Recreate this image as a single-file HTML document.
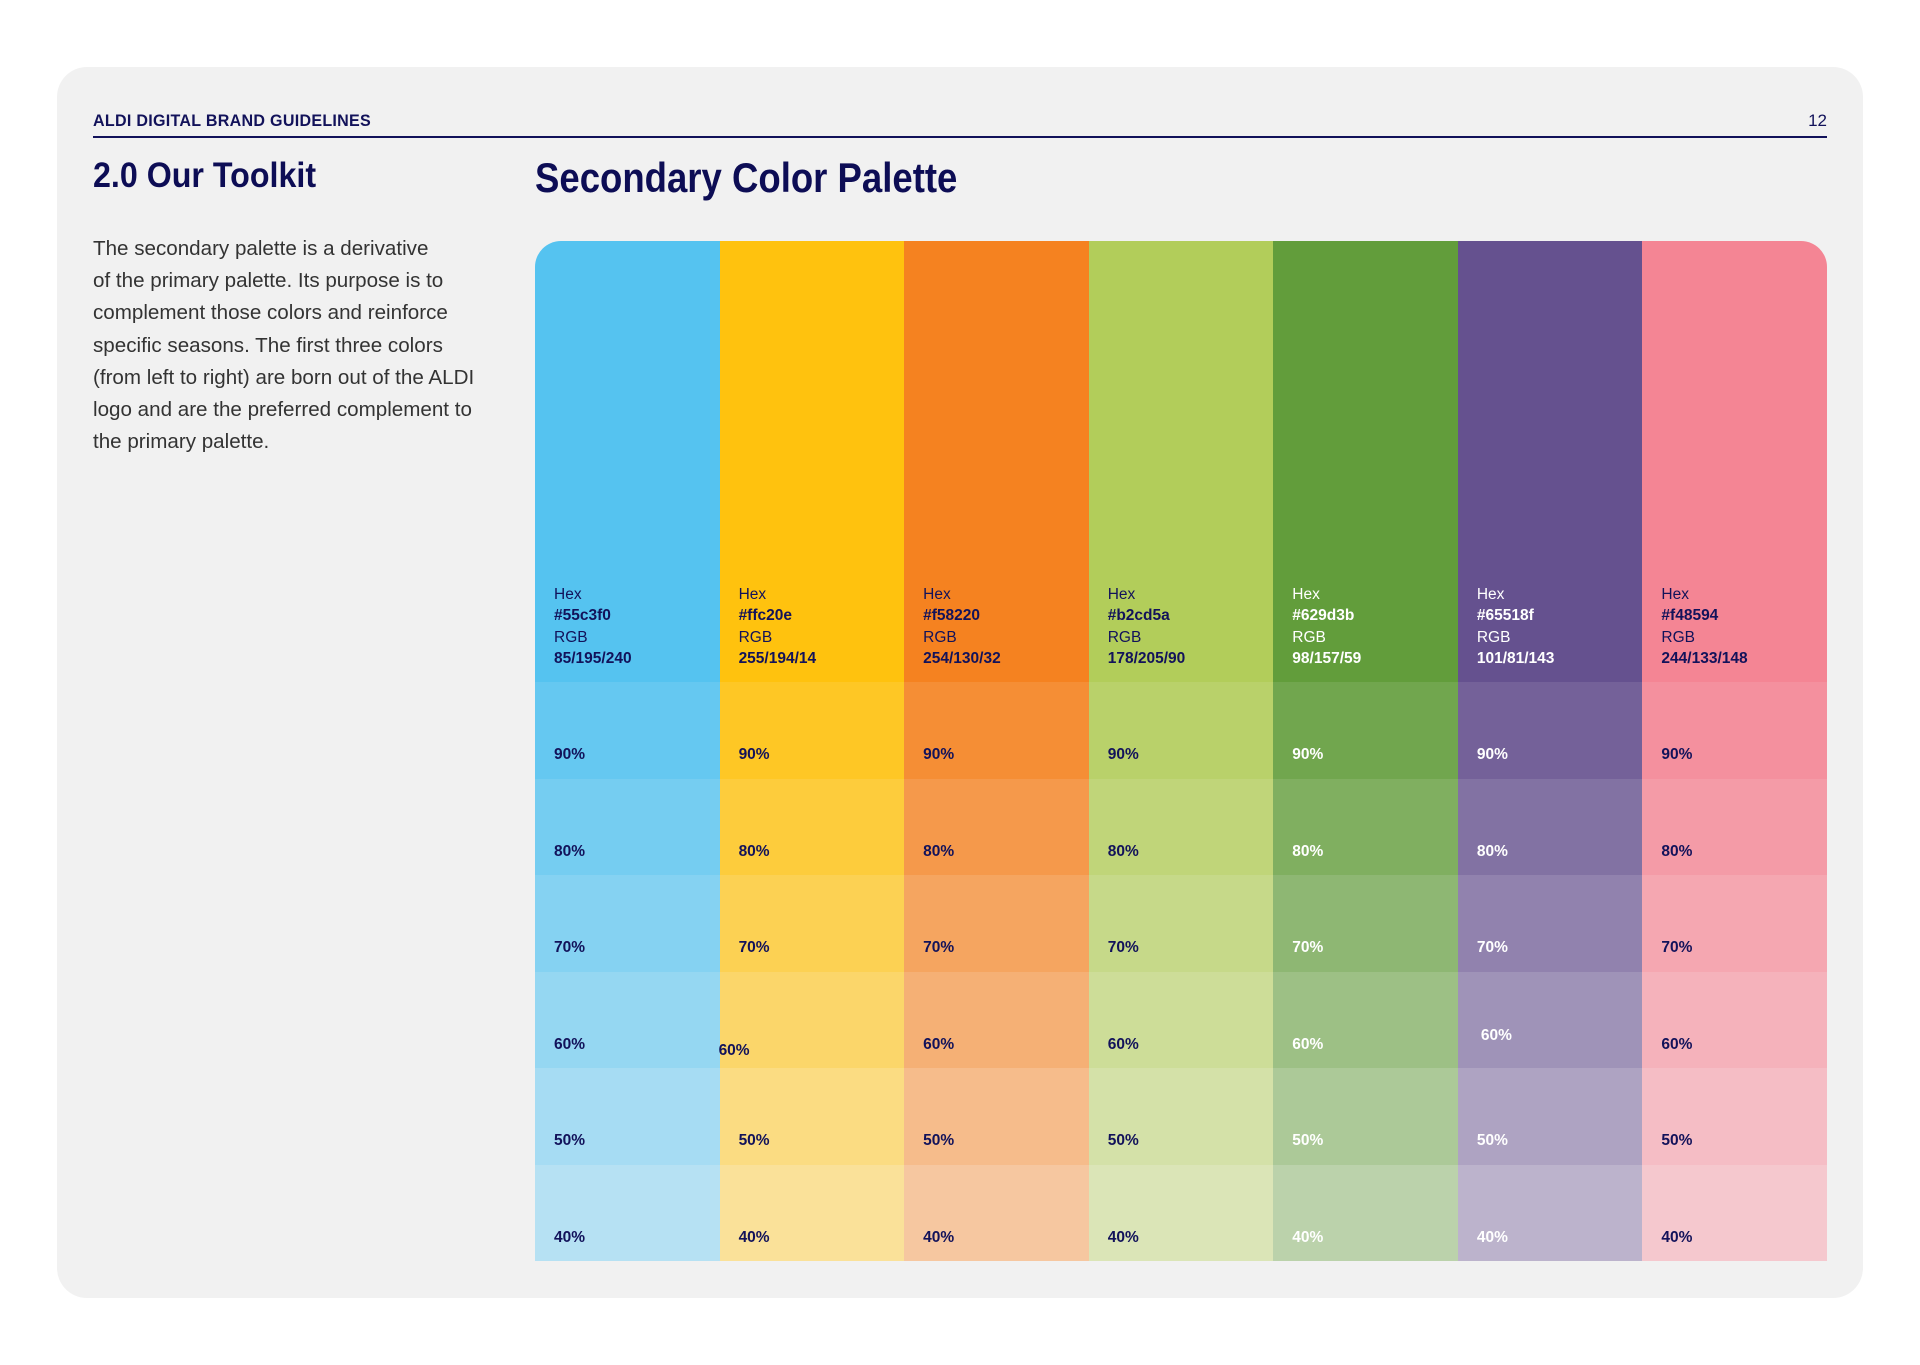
<!DOCTYPE html>
<html><head><meta charset="utf-8">
<style>
html,body{margin:0;padding:0;background:#fff;width:1920px;height:1365px;overflow:hidden}
body{font-family:"Liberation Sans",sans-serif;color:#12125a}
#card{position:absolute;left:57px;top:67px;width:1806px;height:1231px;background:#f1f1f1;border-radius:30px}
.hdr{position:absolute;left:93px;top:111px;font-weight:bold;font-size:17px;letter-spacing:0.3px;color:#12125a;transform:scaleX(0.945);transform-origin:0 0}
.pg{position:absolute;right:93px;top:111px;font-size:17px;color:#12125a}
.rule{position:absolute;left:93px;top:136px;width:1734px;height:2px;background:#12125a}
.h2{position:absolute;left:93px;top:156px;font-weight:bold;font-size:35px;color:#0d0d55;transform:scaleX(0.92);transform-origin:0 0}
.h1{position:absolute;left:535px;top:154px;font-weight:bold;font-size:42px;color:#0d0d55;transform:scaleX(0.87);transform-origin:0 0}
.para{position:absolute;left:93px;top:233px;width:480px;font-family:"Liberation Sans",sans-serif;font-size:20.6px;line-height:32.2px;color:#333}
#pal{position:absolute;left:535px;top:241px;width:1292px;height:1020px;border-radius:26px 26px 0 0;overflow:hidden}
.lbl{position:absolute;font-size:15.5px;white-space:nowrap}
.b{font-weight:bold}
</style></head><body>
<div id="card"></div>
<div class="hdr">ALDI DIGITAL BRAND GUIDELINES</div>
<div class="pg">12</div>
<div class="rule"></div>
<div class="h2">2.0 Our Toolkit</div>
<div class="h1">Secondary Color Palette</div>
<div class="para">The secondary palette is a derivative<br>of the primary palette. Its purpose is to<br>complement those colors and reinforce<br>specific seasons. The first three colors<br>(from left to right) are born out of the ALDI<br>logo and are the preferred complement to<br>the primary palette.</div>
<div id="pal"></div>
<script>
const hexes=["#55c3f0","#ffc20e","#f58220","#b2cd5a","#629d3b","#65518f","#f48594"];
const rgbs=["85/195/240","255/194/14","254/130/32","178/205/90","98/157/59","101/81/143","244/133/148"];
const tints=[90,80,70,60,50,40];
const lightText=[false,false,false,false,true,true,false];
const pal=document.getElementById('pal');
const W=1292,colW=W/hexes.length,mainH=441,rowH=96.5;
function hx(h){return [1,3,5].map(i=>parseInt(h.substr(i,2),16));}
function mix(h,p){const c=hx(h),bg=[246,245,245];return 'rgb('+c.map((v,i)=>Math.round(v*p/100+bg[i]*(1-p/100))).join(',')+')';}
hexes.forEach((h,ci)=>{
  const x=ci*colW;
  const fg=lightText[ci]?'#fff':'#12125a';
  const m=document.createElement('div');
  
  
  m.style.cssText=`position:absolute;left:${x}px;top:0;width:${colW+0.5}px;height:${mainH}px;background:${h}`;
  pal.appendChild(m);
  const lines=[["Hex",false,345],[h,true,366],["RGB",false,388],[rgbs[ci],true,409]];
  lines.forEach(([t,b,y])=>{
    const d=document.createElement('div');
    d.className='lbl'+(b?' b':'');
    
    
    d.style.left=(x+19)+'px';d.style.top=y+'px';d.style.color=fg;d.textContent=t;
    pal.appendChild(d);
  });
  tints.forEach((p,ri)=>{
    const y=mainH+ri*rowH;
    const r=document.createElement('div');
    
    
    r.style.cssText=`position:absolute;left:${x}px;top:${y}px;width:${colW+0.5}px;height:${rowH+0.5}px;background:${mix(h,p)}`;
    pal.appendChild(r);
    const d=document.createElement('div');
    d.className='lbl b';
    
    
    let lx=x+19,ly=y+64;
    if(ci===1&&p===60){lx=x-1;ly=y+70;}
    if(ci===5&&p===60){lx=x+23;ly=y+55;}
    d.style.left=lx+'px';d.style.top=ly+'px';d.style.color=fg;d.textContent=p+'%';
    pal.appendChild(d);
  });
});
</script>
</body></html>
